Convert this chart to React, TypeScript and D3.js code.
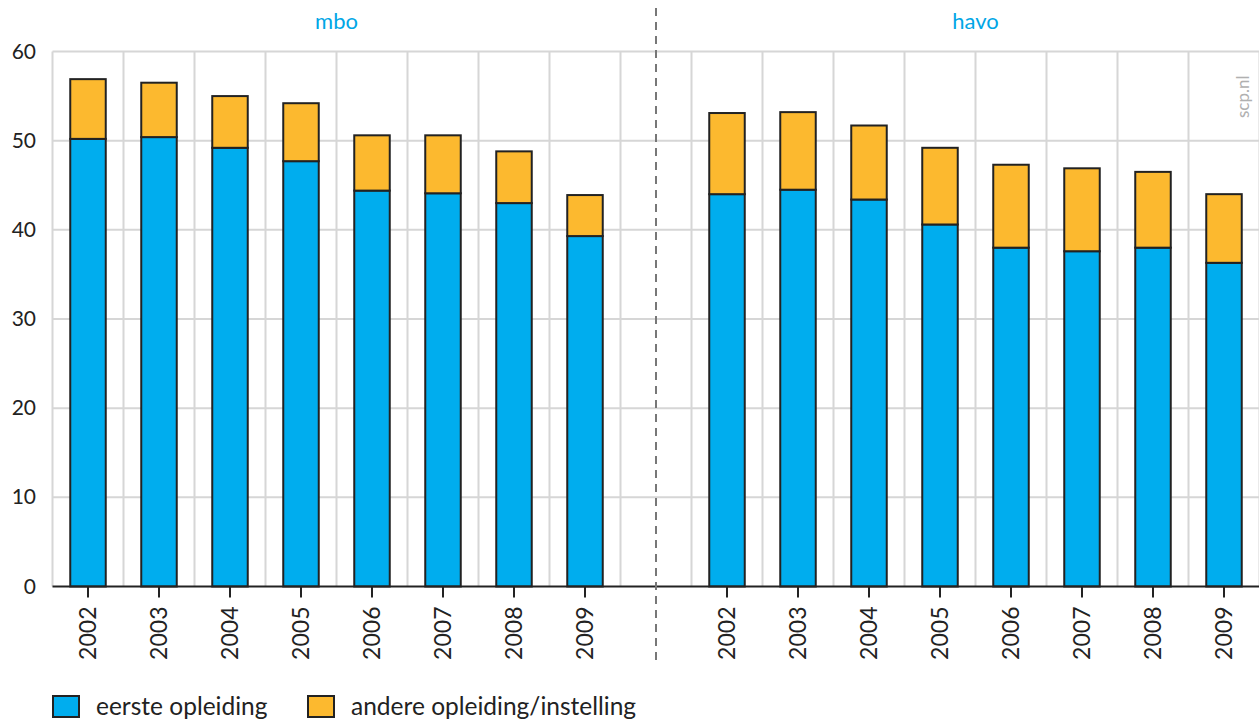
import React, { useEffect, useRef } from 'react';
import * as d3 from 'd3';

// years per group, shown twice on the axis
const years = ['2002', '2003', '2004', '2005', '2006', '2007', '2008', '2009'];
const groups = ['mbo', 'havo'];

// percentages
const mboEerste = [50.2, 50.4, 49.2, 47.7, 44.4, 44.1, 43.0, 39.3];
const mboAndere = [6.7, 6.1, 5.8, 6.5, 6.2, 6.5, 5.8, 4.6];
const havoEerste = [44.0, 44.5, 43.4, 40.6, 38.0, 37.6, 38.0, 36.3];
const havoAndere = [9.1, 8.7, 8.3, 8.6, 9.3, 9.3, 8.5, 7.7];

const yTicks = [0, 10, 20, 30, 40, 50, 60];
const seriesNames = ['eerste opleiding', 'andere opleiding/instelling'];
const colors = ['#00adee', '#fcb92f'];

const W = 1259;
const H = 719;
const FONT = 'Lato, "Open Sans", sans-serif';

const App = () => {
  const svgRef = useRef<SVGSVGElement | null>(null);

  useEffect(() => {
    document.body.style.margin = '0';
    if (!svgRef.current) return;
    const svg = d3.select(svgRef.current);
    svg.selectAll('*').remove();

    const left = 52.5;
    const right = 1259.5;
    const top = 51.5;
    const bottom = 586.5;

    // 8 mbo slots, one empty gap slot, 8 havo slots
    const slots = [
      ...years.map((y) => `mbo-${y}`),
      'gap',
      ...years.map((y) => `havo-${y}`),
    ];
    const rows = [
      ...years.map((y, i) => ({ key: `mbo-${y}`, year: y, eerste: mboEerste[i], andere: mboAndere[i] })),
      ...years.map((y, i) => ({ key: `havo-${y}`, year: y, eerste: havoEerste[i], andere: havoAndere[i] })),
    ];

    const x = d3.scaleBand().domain(slots).range([left, right]).paddingInner(0.5).paddingOuter(0.25);
    const step = x.step();
    const y = d3.scaleLinear().domain([0, 60]).range([bottom, top]);

    // grid
    const grid = svg.append('g').attr('stroke', '#d6d6d6').attr('stroke-width', 2);
    grid.selectAll('line.h')
      .data(yTicks.filter((d) => d > 0))
      .enter()
      .append('line')
      .attr('x1', left)
      .attr('x2', right)
      .attr('y1', (d) => y(d))
      .attr('y2', (d) => y(d));
    grid.selectAll('line.v')
      .data(d3.range(slots.length + 1))
      .enter()
      .append('line')
      .attr('x1', (i) => left + i * step)
      .attr('x2', (i) => left + i * step)
      .attr('y1', top)
      .attr('y2', bottom);

    // y labels
    svg.append('g')
      .selectAll('text')
      .data(yTicks)
      .enter()
      .append('text')
      .attr('x', 36)
      .attr('y', (d) => y(d) + 7)
      .attr('text-anchor', 'end')
      .attr('font-family', FONT)
      .attr('font-size', 21)
      .attr('fill', '#222')
      .text((d) => d);

    // stacked bars
    const stack = d3.stack<any>().keys(['eerste', 'andere']);
    const layers = stack(rows);
    layers.forEach((layer, li) => {
      svg.append('g')
        .selectAll('rect')
        .data(layer)
        .enter()
        .append('rect')
        .attr('x', (d: any) => x(d.data.key)!)
        .attr('width', x.bandwidth())
        .attr('y', (d) => y(d[1]))
        .attr('height', (d) => y(d[0]) - y(d[1]))
        .attr('fill', colors[li])
        .attr('stroke', '#222')
        .attr('stroke-width', 2);
    });

    // bottom axis
    const axis = svg.append('g').attr('transform', `translate(0,${bottom})`);
    axis.append('line')
      .attr('x1', left)
      .attr('x2', right)
      .attr('stroke', '#222')
      .attr('stroke-width', 2);
    const ticks = axis.selectAll('g.tick')
      .data(rows)
      .enter()
      .append('g')
      .attr('transform', (d) => `translate(${x(d.key)! + x.bandwidth() / 2},0)`);
    ticks.append('line').attr('y2', 11).attr('stroke', '#222').attr('stroke-width', 2);
    ticks.append('text')
      .attr('transform', 'translate(8,20) rotate(-90)')
      .attr('text-anchor', 'end')
      .attr('font-family', FONT)
      .attr('font-size', 23)
      .attr('fill', '#222')
      .text((d) => d.year);

    // dashed divider in the gap slot
    const gx = x('gap')! + x.bandwidth() / 2;
    svg.append('line')
      .attr('x1', gx)
      .attr('x2', gx)
      .attr('y1', 8)
      .attr('y2', 665)
      .attr('stroke', '#777')
      .attr('stroke-width', 2)
      .attr('stroke-dasharray', '8,6');

    // group titles
    svg.selectAll('text.group')
      .data(groups)
      .enter()
      .append('text')
      .attr('x', (g, gi) => left + (gi * 9 + 4) * step)
      .attr('y', 29)
      .attr('text-anchor', 'middle')
      .attr('font-family', FONT)
      .attr('font-size', 22)
      .attr('fill', '#00a6e6')
      .text((g) => g);

    // watermark, reading bottom to top
    svg.append('text')
      .attr('transform', 'translate(1249,118) rotate(-90)')
      .attr('font-family', FONT)
      .attr('font-size', 17)
      .attr('fill', '#b0b0b0')
      .text('scp.nl');

    // legend
    const legendX = [53, 308];
    const leg = svg.append('g')
      .selectAll('g')
      .data(seriesNames)
      .enter()
      .append('g')
      .attr('transform', (d, i) => `translate(${legendX[i]},696)`);
    leg.append('rect')
      .attr('width', 26)
      .attr('height', 21)
      .attr('fill', (d, i) => colors[i])
      .attr('stroke', '#222')
      .attr('stroke-width', 2);
    leg.append('text')
      .attr('x', 43)
      .attr('y', 19)
      .attr('font-family', FONT)
      .attr('font-size', 24.5)
      .attr('fill', '#222')
      .text((d) => d);
  }, []);

  return <svg ref={svgRef} width={W} height={H} style={{ display: 'block', background: '#fff' }} />;
};

export default App;
